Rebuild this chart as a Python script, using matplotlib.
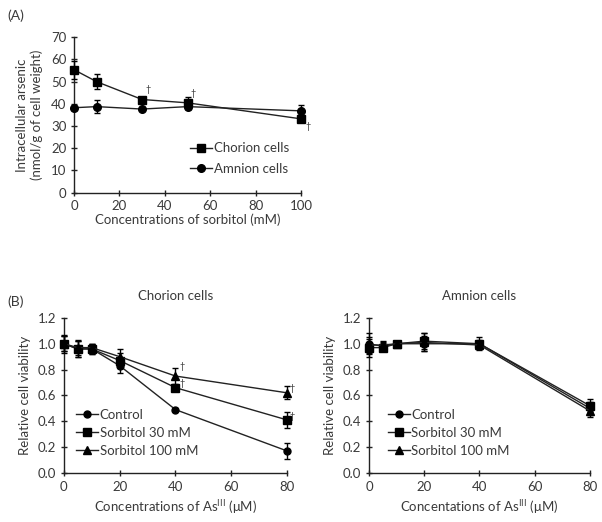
import matplotlib
matplotlib.use("Agg")
import matplotlib.pyplot as plt
from matplotlib.lines import Line2D

plt.rcParams['font.family'] = ['Lato', 'DejaVu Sans']
TXT = '#3a3a3a'
LN = '#222222'
FS = 9.5

# Panel A data
sorbitol = [0, 10, 30, 50, 100]
chorion_A = [55.3, 49.9, 41.9, 40.4, 33.2]
chorion_A_err = [4.0, 3.3, 1.0, 2.7, 1.0]
amnion_A = [38.2, 38.7, 37.6, 38.7, 36.8]
amnion_A_err = [1.0, 3.0, 0.5, 1.0, 2.7]
dagger_A = [(32.6, 46.6), (52.4, 44.4), (103, 29.6)]

# Panel B data
arsenic = [0, 5, 10, 20, 40, 80]
ch_control = [1.00, 0.96, 0.96, 0.83, 0.49, 0.17]
ch_control_err = [0.06, 0.06, 0.04, 0.06, 0.01, 0.06]
ch_s30 = [1.00, 0.96, 0.96, 0.87, 0.66, 0.41]
ch_s30_err = [0.06, 0.06, 0.04, 0.06, 0.02, 0.06]
ch_s100 = [1.00, 0.97, 0.97, 0.90, 0.75, 0.62]
ch_s100_err = [0.07, 0.06, 0.03, 0.06, 0.06, 0.05]
dagger_B = [(42.3, 0.82), (42.3, 0.69), (81.8, 0.65), (81.8, 0.44)]

am_control = [1.00, 0.98, 1.00, 1.00, 1.00, 0.50]
am_control_err = [0.08, 0.03, 0.01, 0.06, 0.05, 0.05]
am_s30 = [0.97, 0.97, 1.00, 1.02, 1.00, 0.52]
am_s30_err = [0.07, 0.03, 0.01, 0.06, 0.03, 0.05]
am_s100 = [0.99, 0.99, 1.00, 1.01, 0.99, 0.48]
am_s100_err = [0.06, 0.03, 0.01, 0.07, 0.03, 0.05]

fig = plt.figure(figsize=(6.02, 5.22), dpi=100)

def style(ax):
    for s in ['top', 'right']:
        ax.spines[s].set_visible(False)
    for s in ['left', 'bottom']:
        ax.spines[s].set_color(LN)
        ax.spines[s].set_linewidth(1.0)
    ax.tick_params(direction='inout', length=5, width=1.0, color=LN,
                   labelsize=FS, labelcolor=TXT, pad=3)

def series(ax, x, y, e, marker, ms):
    ax.errorbar(x, y, yerr=e, color=LN, lw=1.0, marker=marker, ms=ms,
                mfc='black', mec='black', ecolor='black', elinewidth=1.0,
                capsize=2.5, capthick=1.0, clip_on=False, zorder=3)

def handle(marker, ms):
    return Line2D([], [], color=LN, lw=1.0, marker=marker, ms=ms, mfc='black', mec='black')

# Panel A
axA = fig.add_axes([0.123, 0.631, 0.377, 0.298])
style(axA)
series(axA, sorbitol, chorion_A, chorion_A_err, 's', 6)
series(axA, sorbitol, amnion_A, amnion_A_err, 'o', 5.5)
axA.set_xlim(0, 100)
axA.set_ylim(0, 70)
axA.set_xticks([0, 20, 40, 60, 80, 100])
axA.set_yticks(range(0, 71, 10))
axA.set_xlabel('Concentrations of sorbitol (mM)', fontsize=FS, color=TXT, labelpad=1)
axA.set_ylabel('Intracellular arsenic\n(nmol/g of cell weight)', fontsize=FS, color=TXT, labelpad=6)
for xd, yd in dagger_A:
    axA.text(xd, yd, '\u2020', fontsize=6.5, color=TXT, ha='center', va='center', clip_on=False)
axA.legend([handle('s', 6), handle('o', 5.5)], ['Chorion cells', 'Amnion cells'],
           loc='lower right', bbox_to_anchor=(0.97, 0.08), frameon=False, fontsize=FS,
           labelcolor=TXT, handlelength=1.7, handletextpad=0.1, borderaxespad=0, labelspacing=0.65)
fig.text(0.012, 0.962, '(A)', fontsize=10, color=TXT)

# Panel B
fig.text(0.012, 0.413, '(B)', fontsize=10, color=TXT)

def panelB(rect, title, c, ce, s30, s30e, s100, s100e, xlabel, daggers, lx):
    ax = fig.add_axes(rect)
    style(ax)
    series(ax, arsenic, c, ce, 'o', 5)
    series(ax, arsenic, s30, s30e, 's', 5.5)
    series(ax, arsenic, s100, s100e, '^', 5.5)
    ax.set_xlim(0, 80)
    ax.set_ylim(0, 1.2)
    ax.set_xticks([0, 20, 40, 60, 80])
    ax.set_yticks([0, 0.2, 0.4, 0.6, 0.8, 1.0, 1.2])
    ax.set_yticklabels(['0.0', '0.2', '0.4', '0.6', '0.8', '1.0', '1.2'])
    ax.set_xlabel(xlabel, fontsize=FS, color=TXT, labelpad=4)
    ax.set_ylabel('Relative cell viability', fontsize=FS, color=TXT, labelpad=5)
    ax.set_title(title, fontsize=FS, color=TXT, pad=13)
    for (xd, yd) in daggers:
        ax.text(xd, yd, '\u2020', fontsize=6.5, color=TXT, ha='center', va='center', clip_on=False)
    ax.legend([handle('o', 5), handle('s', 5.5), handle('^', 5.5)],
              ['Control', 'Sorbitol 30 mM', 'Sorbitol 100 mM'],
              loc='lower left', bbox_to_anchor=(lx, 0.07), frameon=False, fontsize=FS,
              labelcolor=TXT, handlelength=1.7, handletextpad=0.1, borderaxespad=0, labelspacing=0.45)
    return ax

panelB([0.106, 0.094, 0.371, 0.297], 'Chorion cells', ch_control, ch_control_err,
       ch_s30, ch_s30_err, ch_s100, ch_s100_err,
       'Concentrations of $\\mathregular{As^{III}}$ (\u03bcM)', dagger_B, 0.03)
panelB([0.613, 0.094, 0.367, 0.297], 'Amnion cells', am_control, am_control_err,
       am_s30, am_s30_err, am_s100, am_s100_err,
       'Concentations of $\\mathregular{As^{III}}$ (\u03bcM)', [], 0.06)

fig.savefig('out.png', dpi=100)
